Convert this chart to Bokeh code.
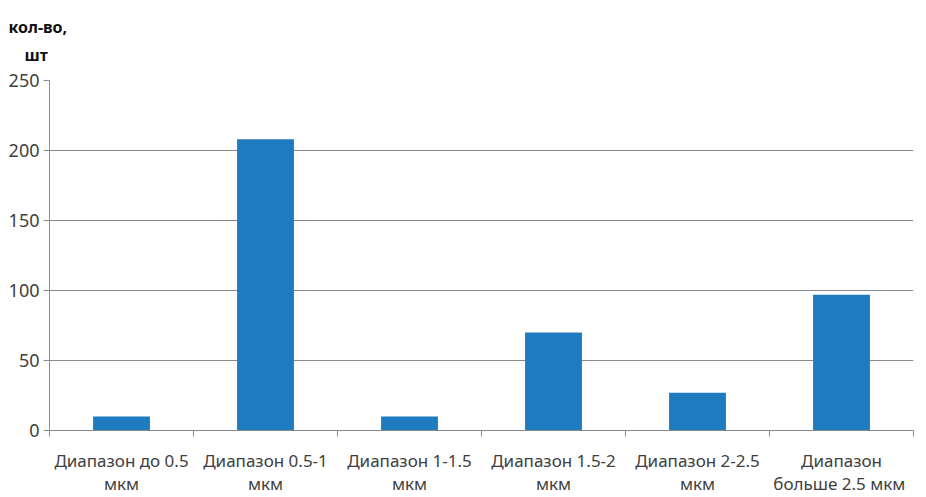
from bokeh.plotting import figure
from bokeh.models import Range1d, LinearAxis, FixedTicker, Grid, Title
from bokeh.embed import file_html
from bokeh.resources import INLINE

categories = ["Диапазон до 0.5\nмкм", "Диапазон 0.5-1\nмкм", "Диапазон 1-1.5\nмкм",
              "Диапазон 1.5-2\nмкм", "Диапазон 2-2.5\nмкм", "Диапазон\nбольше  2.5 мкм"]
values = [10, 208, 10, 70, 27, 97]
y_ticks = [0, 50, 100, 150, 200, 250]
y_title = ["кол-во,", "шт"]

FONT = "Noto Sans"
TXT = "#404040"
GRID = "#8a8a8a"

n = len(categories)
centers = [i + 0.5 for i in range(n)]
bounds = list(range(n + 1))

p = figure(width=918, height=497, output_backend="svg", toolbar_location=None,
           x_range=Range1d(0, n), y_range=Range1d(0, 250),
           x_axis_type=None, y_axis_type=None, title=None,
           min_border_left=49, min_border_right=5, min_border_top=80, min_border_bottom=65)
p.outline_line_color = None

p.vbar(x=centers, top=values, width=0.395, bottom=0, color="#1F7BC0", line_color=None)

yaxis = LinearAxis(ticker=FixedTicker(ticks=y_ticks, minor_ticks=[]))
yaxis.axis_line_color = GRID
yaxis.major_tick_line_color = GRID
yaxis.major_tick_out = 6
yaxis.major_tick_in = 0
yaxis.major_label_text_font = FONT
yaxis.major_label_text_font_size = "18px"
yaxis.major_label_text_color = TXT
yaxis.major_label_standoff = 4
p.add_layout(yaxis, "left")

xaxis = LinearAxis(ticker=FixedTicker(ticks=centers, minor_ticks=bounds))
xaxis.major_label_overrides = {c: lab for c, lab in zip(centers, categories)}
xaxis.axis_line_color = GRID
xaxis.major_tick_line_color = None
xaxis.minor_tick_line_color = GRID
xaxis.minor_tick_out = 6
xaxis.minor_tick_in = 0
xaxis.major_label_text_font = FONT
xaxis.major_label_text_font_size = "17px"
xaxis.major_label_text_color = TXT
xaxis.major_label_text_line_height = 1.0
xaxis.major_label_standoff = 12
p.add_layout(xaxis, "below")

p.add_layout(Grid(dimension=1, ticker=FixedTicker(ticks=y_ticks), grid_line_color=GRID))

# titles: first added sits nearest to the plot frame; spacer lifts the unit label
p.add_layout(Title(text=" ", align="left", standoff=0, text_font=FONT,
                   text_font_size="7px"), "above")
p.add_layout(Title(text=y_title[1], align="left", offset=-25, standoff=8,
                   text_font=FONT, text_font_style="bold", text_font_size="16px",
                   text_color="#111111"), "above")
p.add_layout(Title(text=y_title[0], align="left", offset=-41, standoff=0,
                   text_font=FONT, text_font_style="bold", text_font_size="16px",
                   text_color="#111111"), "above")

open("out.html", "w").write(file_html(p, INLINE))
